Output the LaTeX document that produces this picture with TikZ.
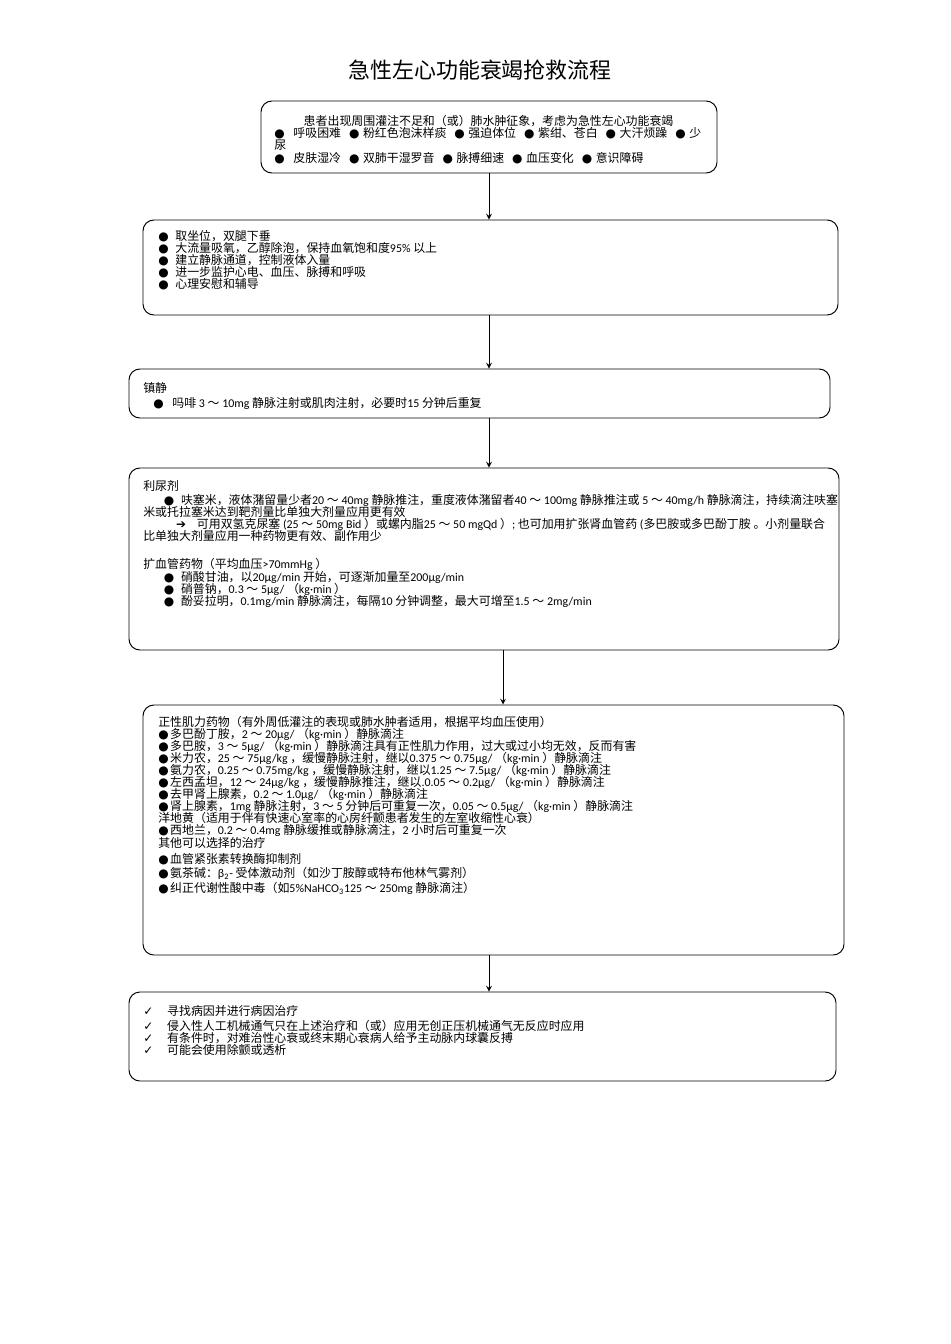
\documentclass[tikz,border=0pt]{standalone}
\usepackage{fontspec}
\setmainfont{Carlito}
\newfontfamily\cjkfont{Noto Sans CJK SC}
\newfontfamily\symfont{DejaVu Sans}
\usetikzlibrary{fit}
% switch to the CJK font for Chinese characters
\XeTeXinterchartokenstate=1
\newXeTeXintercharclass\cjkclass
\newcount\cjkcode
\def\setcjkrange#1#2{\cjkcode=#1 \loop\XeTeXcharclass\cjkcode=\cjkclass
  \ifnum\cjkcode<#2 \advance\cjkcode by 1 \repeat}
\setcjkrange{"3000}{"303F}
\setcjkrange{"4E00}{"9FFF}
\setcjkrange{"FF00}{"FFEF}
\XeTeXinterchartoks 0 \cjkclass = {\cjkfont}
\XeTeXinterchartoks 4095 \cjkclass = {\cjkfont}
\XeTeXinterchartoks \cjkclass 0 = {\rmfamily}
\XeTeXinterchartoks \cjkclass 4095 = {\rmfamily}
\setlength{\lineskiplimit}{-\maxdimen}
\newcommand{\bul}[1]{\makebox[#1][l]{\symfont ●}}
\newcommand{\chk}{\makebox[15pt][l]{\symfont ✓}}
\newcommand{\arr}{\makebox[13pt][l]{\symfont ➔}}
\begin{document}
\begin{tikzpicture}[x=0.22105mm, y=-0.22105mm,
    box/.style={draw, rounded corners=2.4mm, inner sep=0pt, line width=0.6pt},
    txt/.style={anchor=north west, inner sep=0pt, align=left, font=\fontsize{7.5}{7.55}\selectfont},
    arrow/.style={->, >=stealth, line width=0.6pt}
]
    \path[use as bounding box, fill=white] (0,0) rectangle (950,1344);
    \node[font=\fontsize{13.8}{14}\selectfont] (title) at (480,70) {急性左心功能衰竭抢救流程};

    % boxes
    \node[box, fit={(261,101) (717,173)}] (symptom) {};
    \node[box, fit={(143,220) (838,315)}] (basic) {};
    \node[box, fit={(129,369) (830,418)}] (sedate) {};
    \node[box, fit={(129,468) (839,650)}] (diuretic) {};
    \node[box, fit={(143,705) (844,955)}] (inotrope) {};
    \node[box, fit={(129,992) (836,1081)}] (other) {};

    % texts
    \node[txt] (symptomtxt) at (274,115) {\hspace{18.5pt}患者出现周围灌注不足和（或）肺水肿征象，考虑为急性左心功能衰竭\\
        \bul{12pt}呼吸困难\hspace{5pt}\bul{8.8pt}粉红色泡沫样痰\hspace{5pt}\bul{8.8pt}强迫体位\hspace{5pt}\bul{8.8pt}紫绀、苍白\hspace{5pt}\bul{8.8pt}大汗烦躁\hspace{5pt}\bul{8.8pt}少\\
        尿\\[0.6pt]
        \bul{12pt}皮肤湿冷\hspace{5pt}\bul{8.8pt}双肺干湿罗音\hspace{5pt}\bul{8.8pt}脉搏细速\hspace{5pt}\bul{8.8pt}血压变化\hspace{5pt}\bul{8.8pt}意识障碍};
    \node[txt] (basictxt) at (158,230) {\bul{10.7pt}取坐位，双腿下垂\\
        \bul{10.7pt}大流量吸氧，乙醇除泡，保持血氧饱和度95\% 以上\\
        \bul{10.7pt}建立静脉通道，控制液体入量\\
        \bul{10.7pt}进一步监护心电、血压、脉搏和呼吸\\
        \bul{10.7pt}心理安慰和辅导};
    \node[txt] (sedatetxt) at (143,382) {镇静\\[1.9pt]
        \hspace{6.3pt}\bul{12pt}吗啡 3 ～ 10mg 静脉注射或肌肉注射，必要时15 分钟后重复};
    \node[txt] (diuretictxt) at (143,480) {利尿剂\\[1.2pt]
        \hspace{13pt}\bul{10.7pt}呋塞米，液体潴留量少者20 ～ 40mg 静脉推注，重度液体潴留者40 ～ 100mg 静脉推注或 5 ～ 40mg/h 静脉滴注，持续滴注呋塞\\
        米或托拉塞米达到靶剂量比单独大剂量应用更有效\\
        \hspace{20.7pt}\arr 可用双氢克尿塞 (25 ～ 50mg Bid ）或螺内脂25 ～ 50 mgQd ）; 也可加用扩张肾血管药 (多巴胺或多巴酚丁胺 。小剂量联合\\
        比单独大剂量应用一种药物更有效、副作用少\\[10pt]
        扩血管药物（平均血压>70mmHg ）\\[0.6pt]
        \hspace{13pt}\bul{10.7pt}硝酸甘油，以20μg/min 开始，可逐渐加量至200μg/min\\
        \hspace{13pt}\bul{10.7pt}硝普钠，0.3 ～ 5μg/ （kg·min ）\\
        \hspace{13pt}\bul{10.7pt}酚妥拉明，0.1mg/min 静脉滴注，每隔10 分钟调整，最大可增至1.5 ～ 2mg/min};
    \node[txt] (inotropetxt) at (158,716) {正性肌力药物（有外周低灌注的表现或肺水肿者适用，根据平均血压使用）\\
        \bul{7.5pt}多巴酚丁胺，2 ～ 20μg/ （kg·min ）静脉滴注\\
        \bul{7.5pt}多巴胺，3 ～ 5μg/ （kg·min ）静脉滴注具有正性肌力作用，过大或过小均无效，反而有害\\
        \bul{7.5pt}米力农，25 ～ 75μg/kg ，缓慢静脉注射，继以0.375 ～ 0.75μg/ （kg·min ）静脉滴注\\
        \bul{7.5pt}氨力农，0.25 ～ 0.75mg/kg ，缓慢静脉注射，继以1.25 ～ 7.5μg/ （kg·min ）静脉滴注\\
        \bul{7.5pt}左西孟坦，12 ～ 24μg/kg ，缓慢静脉推注，继以.0.05 ～ 0.2μg/ （kg·min ）静脉滴注\\
        \bul{7.5pt}去甲肾上腺素，0.2 ～ 1.0μg/ （kg·min ）静脉滴注\\
        \bul{7.5pt}肾上腺素，1mg 静脉注射，3 ～ 5 分钟后可重复一次，0.05 ～ 0.5μg/ （kg·min ）静脉滴注\\
        洋地黄（适用于伴有快速心室率的心房纤颤患者发生的左室收缩性心衰）\\
        \bul{7.5pt}西地兰，0.2 ～ 0.4mg 静脉缓推或静脉滴注，2 小时后可重复一次\\[0.6pt]
        其他可以选择的治疗\\[2.5pt]
        \bul{7.5pt}血管紧张素转换酶抑制剂\\[1.3pt]
        \bul{7.5pt}氨茶碱：β\textsubscript{2}- 受体激动剂（如沙丁胺醇或特布他林气雾剂）\\[1.9pt]
        \bul{7.5pt}纠正代谢性酸中毒（如5\%NaHCO\textsubscript{3}125 ～ 250mg 静脉滴注）};
    \node[txt] (othertxt) at (143,1005) {\chk 寻找病因并进行病因治疗\\[1.9pt]
        \chk 侵入性人工机械通气只在上述治疗和（或）应用无创正压机械通气无反应时应用\\
        \chk 有条件时，对难治性心衰或终末期心衰病人给予主动脉内球囊反搏\\
        \chk 可能会使用除颤或透析};

    % arrows
    \coordinate (shift4) at ([xshift=12pt]diuretic.south);
    \draw[arrow] (symptom.south) -- (symptom.south |- basic.north);
    \draw[arrow] (basic.south -| symptom.south) -- (sedate.north -| symptom.south);
    \draw[arrow] (sedate.south -| symptom.south) -- (diuretic.north -| symptom.south);
    \draw[arrow] (shift4) -- (shift4 |- inotrope.north);
    \draw[arrow] (inotrope.south -| symptom.south) -- (other.north -| symptom.south);
\end{tikzpicture}
\end{document}
